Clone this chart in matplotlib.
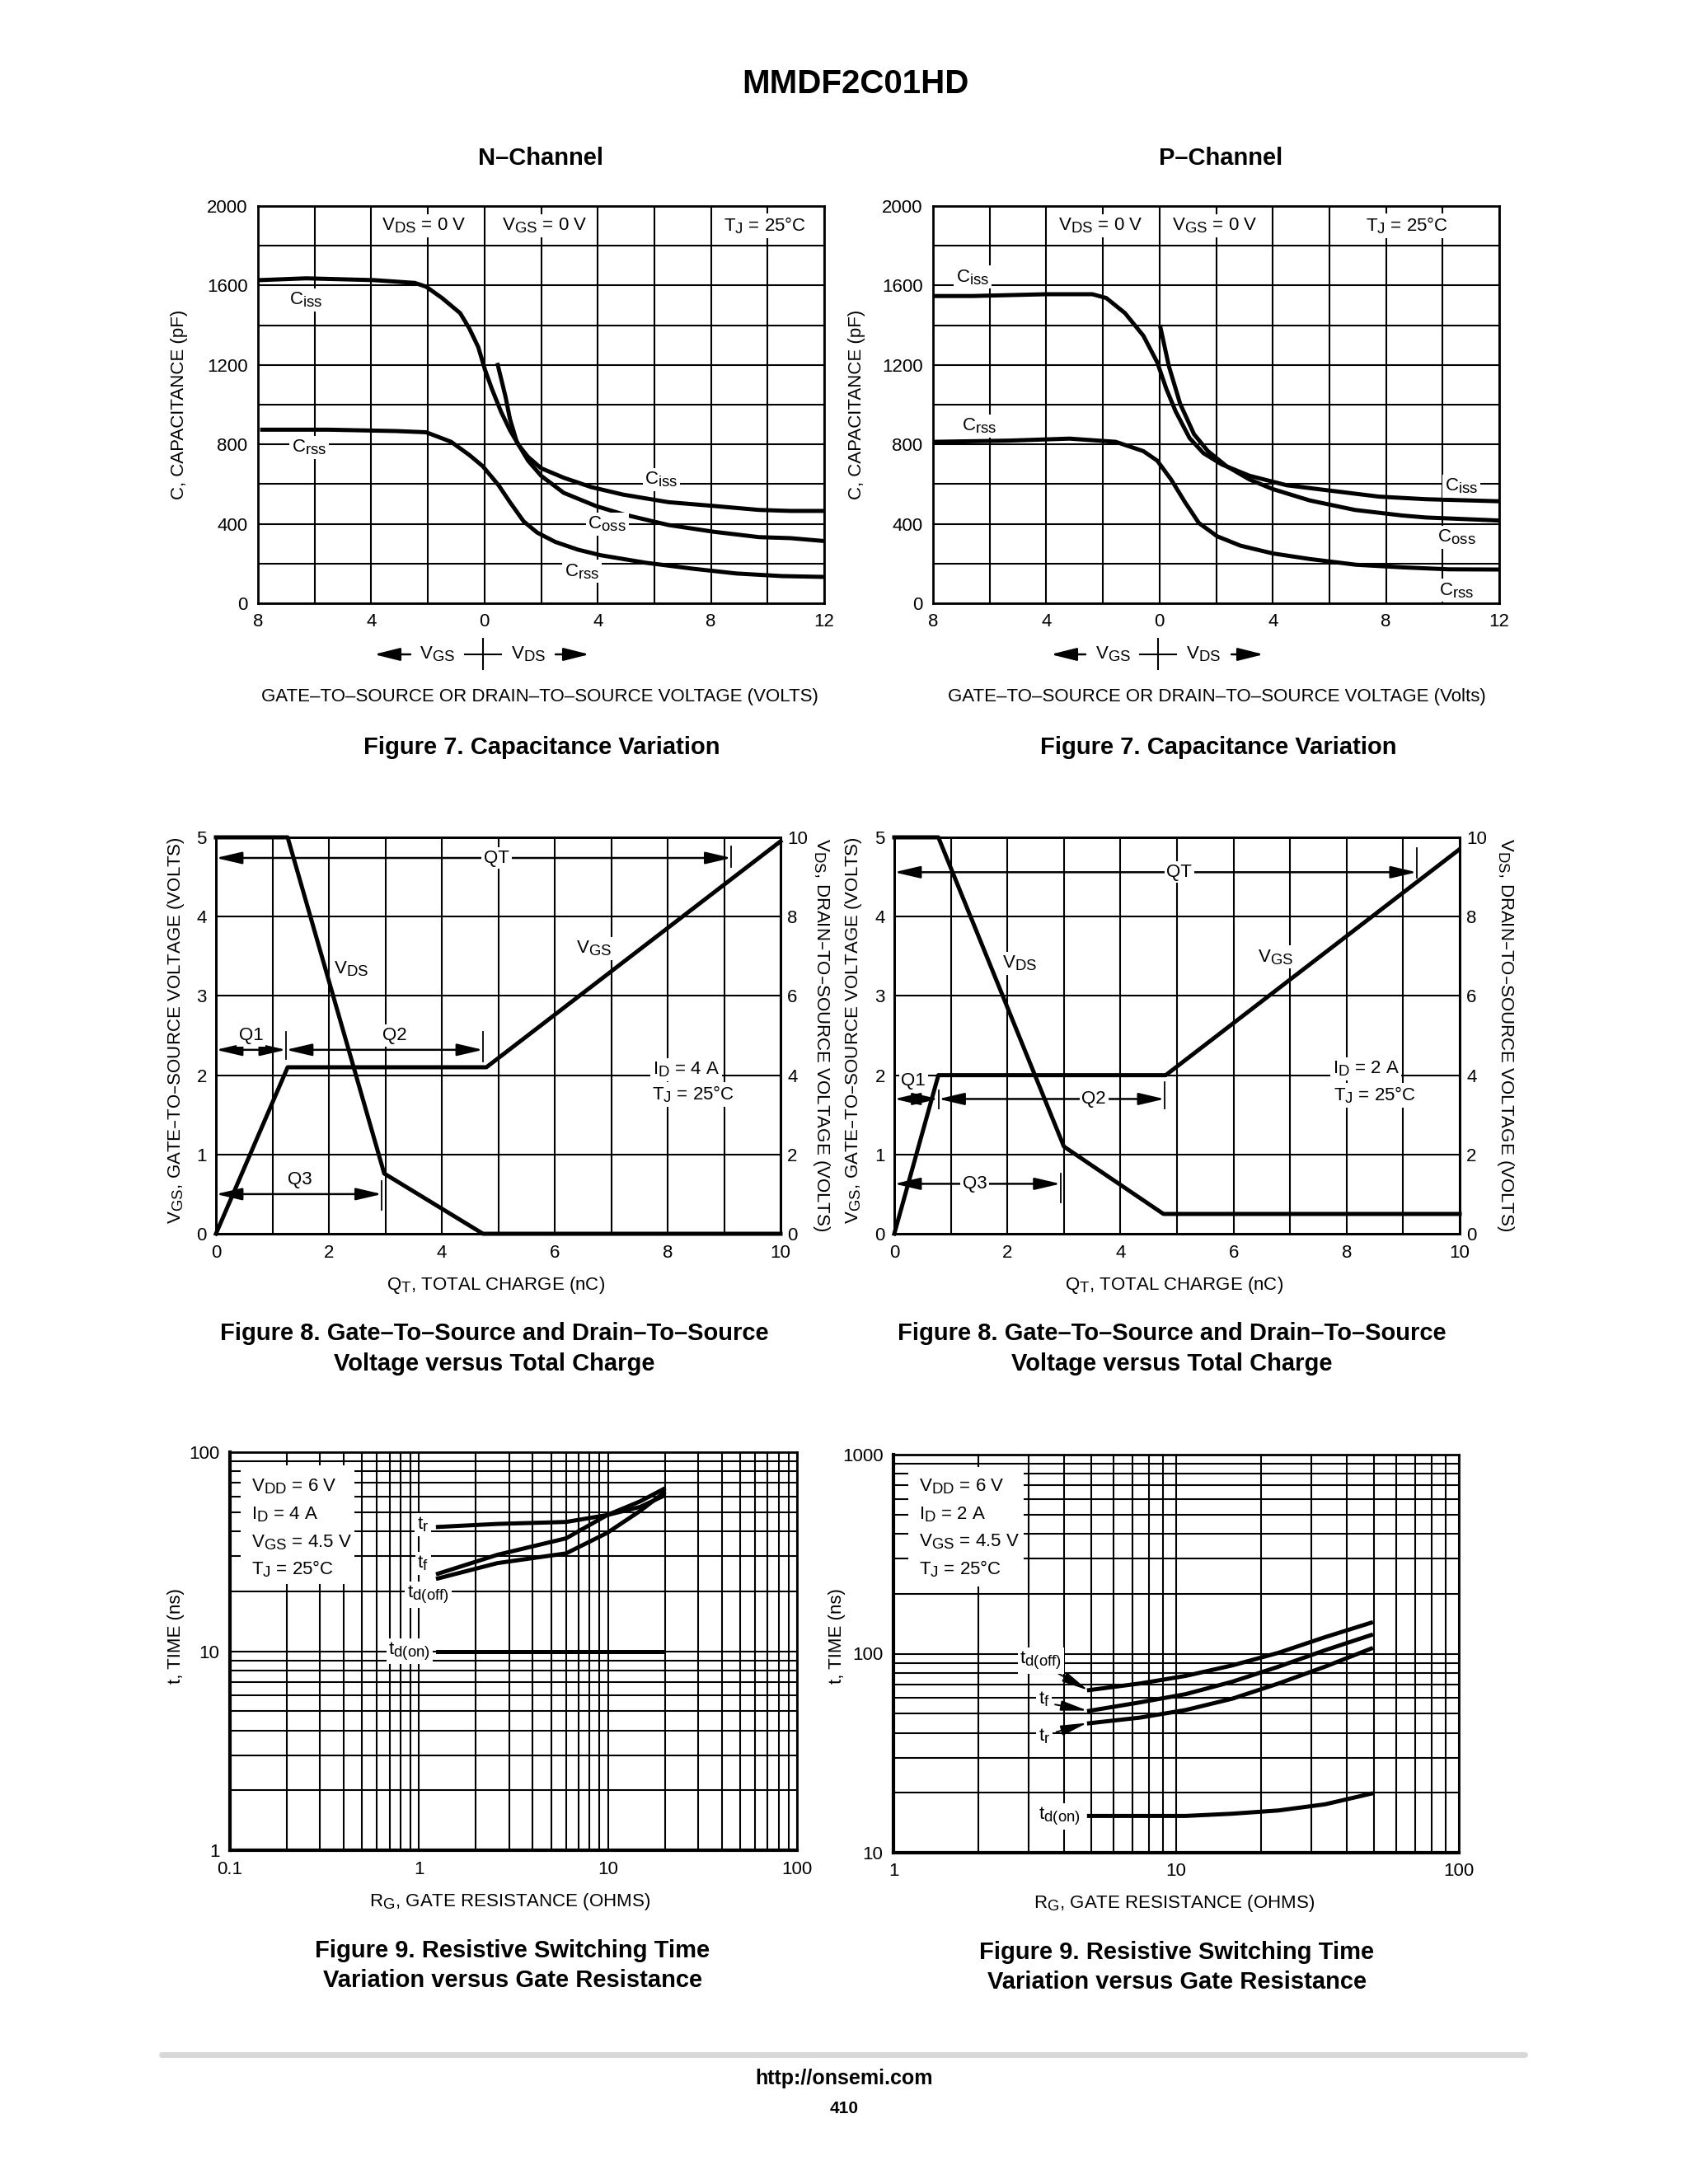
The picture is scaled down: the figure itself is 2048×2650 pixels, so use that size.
import numpy as np
import matplotlib as mpl
mpl.use('Agg')
import matplotlib.pyplot as plt
from matplotlib.lines import Line2D
from matplotlib.patches import Rectangle, FancyArrowPatch
from matplotlib.ticker import LogLocator, NullFormatter, FixedLocator, FixedFormatter

NARROW = ['Liberation Sans Narrow', 'Liberation Sans', 'DejaVu Sans']
BOLD = ['Liberation Sans', 'DejaVu Sans']
mpl.rcParams['font.family'] = NARROW
mpl.rcParams['font.size'] = 16
mpl.rcParams['mathtext.default'] = 'regular'

# datasheet subscripts are nearly full size
try:
    import matplotlib._mathtext as _mt
    _mt.SHRINK_FACTOR = 0.84
except Exception:
    pass

# ---------------- data ----------------
# Figure 7, N-channel capacitance (x < 0 is VGS, x > 0 is VDS)
vn_ciss = [-7.95, -6.3, -3.9, -2.46, -2.06, -1.5, -0.86, -0.54, -0.22, 0.02, 0.26,
           0.58, 0.9, 1.22, 1.54, 2.0, 2.8, 3.77, 4.9, 6.5, 8.1, 9.7, 10.8, 11.9]
cn_ciss = [1627, 1636, 1627, 1613, 1594, 1537, 1461, 1385, 1290, 1175, 1080,
           966, 871, 794, 737, 680, 632, 585, 547, 509, 490, 470, 465, 465]
vn_coss = [0.47, 0.74, 0.9, 1.14, 1.54, 2.0, 2.8, 3.93, 4.9, 6.5, 8.1, 9.7, 10.8, 11.95]
cn_coss = [1200, 1042, 928, 813, 718, 642, 556, 490, 448, 394, 360, 333, 328, 314]
vn_crss = [-7.85, -5.5, -3.1, -2.06, -1.18, -0.54, -0.06, 0.5, 0.9, 1.38, 1.86,
           2.5, 3.3, 4.1, 5.7, 7.3, 8.9, 10.5, 11.9]
cn_crss = [874, 874, 867, 861, 813, 747, 690, 594, 509, 413, 356,
           309, 270, 242, 204, 175, 150, 137, 133]

# Figure 7, P-channel capacitance
vp_ciss = [-7.92, -6.6, -4.0, -2.37, -1.88, -1.22, -0.57, -0.08, 0.24, 0.57,
           1.06, 1.55, 2.2, 3.18, 4.5, 6.1, 7.75, 9.4, 11.9]
cp_ciss = [1547, 1547, 1556, 1556, 1537, 1461, 1347, 1213, 1080, 966,
           832, 756, 699, 642, 594, 566, 537, 524, 514]
vp_coss = [0.03, 0.33, 0.73, 1.22, 1.71, 2.37, 3.18, 4.0, 5.3, 6.9, 8.57, 9.4, 11.95]
cp_coss = [1391, 1194, 1004, 851, 766, 690, 623, 575, 518, 470, 442, 432, 417]
vp_crss = [-7.92, -5.3, -3.18, -1.55, -0.57, -0.08, 0.41, 0.9, 1.39, 2.04,
           2.86, 4.0, 5.3, 6.94, 8.57, 10.2, 11.9]
cp_crss = [813, 819, 829, 813, 766, 718, 623, 509, 404, 337,
           290, 251, 223, 194, 181, 171, 170]

# Figure 8, gate charge (VGS on left axis, VDS on right axis)
qn_vgs = [0, 1.27, 4.79, 10.0]
vn_vgs = [0, 2.1, 2.1, 4.95]
qn_vds = [0, 1.27, 2.98, 4.73, 10.0]
vn_vds = [10, 10, 1.52, 0, 0]
qn_marks = [1.24, 4.73, 2.94, 9.13]      # Q1, Q2, Q3, QT ends

qp_vgs = [0, 0.78, 4.8, 9.98]
vp_vgs = [0, 2.0, 2.0, 4.84]
qp_vds = [0, 0.78, 3.0, 4.76, 10.0]
vp_vds = [10, 10, 2.2, 0.5, 0.5]
qp_marks = [0.78, 4.78, 2.94, 9.24]

# Figure 9, switching times vs gate resistance
rg_n = [1.26, 2.6, 6.0, 9.9, 14.8, 19.7]
tr_n = [42.1, 43.6, 44.6, 48.3, 53.1, 60.3]
tf_n = [24.5, 30.5, 36.9, 48.3, 56.6, 65.3]
tdoff_n = [23.2, 27.7, 31.0, 39.3, 50.7, 62.4]
tdon_n = [10.0, 10.0, 10.0, 10.0, 10.0, 10.0]

rg_p = [4.92, 7.44, 10.8, 15.8, 23.0, 33.6, 48.9]
tdoff_p = [65.6, 70.8, 77.3, 87.3, 101, 121, 143]
tf_p = [51.6, 56.9, 62.6, 72.3, 86, 104, 124]
tr_p = [44.7, 47.7, 52.1, 59.4, 70.8, 86, 106]
tdon_p = [15.3, 15.3, 15.3, 15.7, 16.3, 17.5, 19.8]

# ---------------- page setup ----------------
W, H = 2048.0, 2650.0
fig = plt.figure(figsize=(W / 100, H / 100), dpi=100)

LW_CURVE = 3.6
FS = 16
WHITE = dict(facecolor='white', edgecolor='none', pad=2)


def px_box(x0, y0, x1, y1):
    return [x0 / W, 1 - y1 / H, (x1 - x0) / W, (y1 - y0) / H]


def fpt(x, y):
    return (x / W, 1 - y / H)


def ftext(x, y, s, **kw):
    kw.setdefault('ha', 'center')
    kw.setdefault('va', 'center')
    kw.setdefault('size', FS)
    return fig.text(x / W, 1 - y / H, s, **kw)


def fline(xs, ys, **kw):
    fig.add_artist(Line2D([x / W for x in xs], [1 - y / H for y in ys],
                          transform=fig.transFigure, color='black', **kw))


def farrow(x0, y0, x1, y1):
    fig.add_artist(FancyArrowPatch(fpt(x0, y0), fpt(x1, y1), transform=fig.transFigure,
                                   arrowstyle='-|>,head_length=1.2,head_width=0.3',
                                   mutation_scale=16, lw=1.8, color='black',
                                   shrinkA=0, shrinkB=0))


def style_axes(ax, frame=2.0):
    ax.tick_params(which='both', length=0, labelsize=FS, pad=9)
    ax.grid(which='both', color='black', lw=1.5)
    for sp in ax.spines.values():
        sp.set_linewidth(frame)


def arrow(ax, x0, x1, y):
    ax.annotate('', xy=(x1, y), xytext=(x0, y),
                arrowprops=dict(arrowstyle='<|-|>,head_length=1.2,head_width=0.28',
                                mutation_scale=16, lw=1.8, color='black',
                                shrinkA=0, shrinkB=0), zorder=4)


# ---------------- Figure 7: capacitance ----------------
def cap_chart(box, curves, labels, conds):
    ax = fig.add_axes(px_box(*box))
    ax.set_xlim(-8, 12)
    ax.set_ylim(0, 2000)
    ax.set_xticks([-8, -4, 0, 4, 8, 12], ['8', '4', '0', '4', '8', '12'])
    ax.set_xticks(np.arange(-8, 13, 2), minor=True)
    ax.set_yticks(np.arange(0, 2001, 400))
    ax.set_yticks(np.arange(0, 2001, 200), minor=True)
    style_axes(ax)
    for x, y in curves:
        ax.plot(x, y, color='black', lw=LW_CURVE, zorder=3)
    for s, x, y in labels + conds:
        ax.text(x, y, s, ha='center', va='center', bbox=WHITE, zorder=5)
    return ax


cap_chart((313, 250, 1000, 732),
          [(vn_ciss, cn_ciss), (vn_coss, cn_coss), (vn_crss, cn_crss)],
          [('C$_{iss}$', -6.3, 1528), ('C$_{rss}$', -6.2, 785), ('C$_{iss}$', 6.25, 623),
           ('C$_{oss}$', 4.33, 400), ('C$_{rss}$', 3.45, 160)],
          [('V$_{DS}$ = 0 V', -2.14, 1900), ('V$_{GS}$ = 0 V', 2.13, 1900),
           ('T$_{J}$ = 25°C', 9.9, 1900)])
cap_chart((1132, 250, 1819, 732),
          [(vp_ciss, cp_ciss), (vp_coss, cp_coss), (vp_crss, cp_crss)],
          [('C$_{iss}$', -6.6, 1642), ('C$_{rss}$', -6.35, 893), ('C$_{iss}$', 10.66, 591),
           ('C$_{oss}$', 10.5, 333), ('C$_{rss}$', 10.5, 65)],
          [('V$_{DS}$ = 0 V', -2.1, 1900), ('V$_{GS}$ = 0 V', 1.96, 1900),
           ('T$_{J}$ = 25°C', 8.73, 1900)])

ftext(656, 192, 'N–Channel', family=BOLD, weight='bold', size=21)
ftext(1481, 192, 'P–Channel', family=BOLD, weight='bold', size=21)
ftext(218, 491, 'C, CAPACITANCE (pF)', rotation=90)
ftext(1039, 491, 'C, CAPACITANCE (pF)', rotation=90)

# VGS <-|-> VDS direction rows
for la, gx, cx, dx, ra in [((498, 454), 531, 586, 641, (674, 715)),
                           ((1317, 1275), 1351, 1405, 1460, (1494, 1533))]:
    farrow(la[0], 794, la[1], 794)
    ftext(gx, 794, 'V$_{GS}$')
    fline([cx, cx], [775, 812], lw=1.5)
    fline([cx - 22, cx + 22], [794, 794], lw=1.5)
    ftext(dx, 794, 'V$_{DS}$')
    farrow(ra[0], 794, ra[1], 794)

ftext(655, 845, 'GATE–TO–SOURCE OR DRAIN–TO–SOURCE VOLTAGE (VOLTS)')
ftext(1476, 845, 'GATE–TO–SOURCE OR DRAIN–TO–SOURCE VOLTAGE (Volts)')
ftext(657, 907, 'Figure 7. Capacitance Variation', family=BOLD, weight='bold', size=21)
ftext(1478, 907, 'Figure 7. Capacitance Variation', family=BOLD, weight='bold', size=21)


# ---------------- Figure 8: gate charge ----------------
def qg_chart(box, q_vgs, v_vgs, q_vds, v_vds, marks, spec):
    ax = fig.add_axes(px_box(*box))
    ax.set_xlim(0, 10)
    ax.set_ylim(0, 5)
    ax.set_xticks(np.arange(0, 11, 2))
    ax.set_xticks(np.arange(0, 11, 1), minor=True)
    ax.set_yticks(np.arange(0, 6, 1))
    style_axes(ax)
    ax.tick_params(axis='y', pad=8)
    ax.plot(q_vgs, v_vgs, color='black', lw=LW_CURVE, zorder=3, clip_on=False)

    ax2 = ax.twinx()
    ax2.set_ylim(0, 10)
    ax2.set_yticks(np.arange(0, 11, 2))
    ax2.tick_params(length=0, labelsize=FS, pad=6)
    for sp in ax2.spines.values():
        sp.set_linewidth(2.0)
    ax2.plot(q_vds, v_vds, color='black', lw=LW_CURVE, zorder=3, clip_on=False)

    q1, q2, q3, qt = marks
    # dimension arrows with their end ticks
    arrow(ax, 0, qt, spec['yt'])
    ax.plot([qt, qt], spec['tt'], color='black', lw=1.3, zorder=4)
    arrow(ax, 0, q1, spec['y12'])
    arrow(ax, q1, q2, spec['y12'])
    ax.plot([q1, q1], spec['t1'], color='black', lw=1.3, zorder=4)
    ax.plot([q2, q2], spec['t2'], color='black', lw=1.3, zorder=4)
    arrow(ax, 0, q3, spec['y3'])
    ax.plot([q3, q3], spec['t3'], color='black', lw=1.3, zorder=4)

    for s, x, y in spec['labels']:
        ax.text(x, y, s, ha='center', va='center', bbox=WHITE, zorder=6)
    return ax


qg_chart((262, 1016, 947, 1497), qn_vgs, vn_vgs, qn_vds, vn_vds, qn_marks,
         dict(yt=4.74, tt=(4.63, 4.89), y12=2.32, t1=(2.2, 2.55), t2=(2.17, 2.55),
              y3=0.5, t3=(0.3, 0.67),
              labels=[('QT', 4.97, 4.74), ('Q1', 0.625, 2.5), ('Q2', 3.17, 2.5),
                      ('Q3', 1.48, 0.68), ('V$_{DS}$', 2.4, 3.34), ('V$_{GS}$', 6.7, 3.6),
                      ('I$_{D}$ = 4 A', 8.33, 2.07), ('T$_{J}$ = 25°C', 8.45, 1.76)]))
qg_chart((1085, 1016, 1771, 1497), qp_vgs, vp_vgs, qp_vds, vp_vds, qp_marks,
         dict(yt=4.56, tt=(4.49, 4.87), y12=1.70, t1=(1.58, 1.81), t2=(1.58, 1.91),
              y3=0.63, t3=(0.39, 0.76),
              labels=[('QT', 5.04, 4.56), ('Q1', 0.34, 1.93), ('Q2', 3.53, 1.70),
                      ('Q3', 1.42, 0.63), ('V$_{DS}$', 2.22, 3.41), ('V$_{GS}$', 6.75, 3.49),
                      ('I$_{D}$ = 2 A', 8.34, 2.08), ('T$_{J}$ = 25°C', 8.5, 1.75)]))

ftext(214, 1250, 'V$_{GS}$, GATE–TO–SOURCE VOLTAGE (VOLTS)', rotation=90)
ftext(997, 1256, 'V$_{DS}$, DRAIN–TO–SOURCE VOLTAGE (VOLTS)', rotation=270)
ftext(1036, 1250, 'V$_{GS}$, GATE–TO–SOURCE VOLTAGE (VOLTS)', rotation=90)
ftext(1826, 1256, 'V$_{DS}$, DRAIN–TO–SOURCE VOLTAGE (VOLTS)', rotation=270)
ftext(602, 1559, 'Q$_{T}$, TOTAL CHARGE (nC)')
ftext(1425, 1559, 'Q$_{T}$, TOTAL CHARGE (nC)')
for cx in (600, 1422):
    ftext(cx, 1618, 'Figure 8. Gate–To–Source and Drain–To–Source',
          family=BOLD, weight='bold', size=21)
    ftext(cx, 1655, 'Voltage versus Total Charge', family=BOLD, weight='bold', size=21)


# ---------------- Figure 9: switching times ----------------
def sw_chart(box, xlim, ylim, xt, yt, curves, labels, cond, cbox, ctext):
    ax = fig.add_axes(px_box(*box))
    ax.set_xscale('log')
    ax.set_yscale('log')
    ax.set_xlim(*xlim)
    ax.set_ylim(*ylim)
    ax.xaxis.set_major_locator(FixedLocator(xt))
    ax.xaxis.set_major_formatter(FixedFormatter([str(v) for v in xt]))
    ax.yaxis.set_major_locator(FixedLocator(yt))
    ax.yaxis.set_major_formatter(FixedFormatter([str(v) for v in yt]))
    for a in (ax.xaxis, ax.yaxis):
        a.set_minor_locator(LogLocator(base=10, subs=np.arange(2, 10), numticks=50))
        a.set_minor_formatter(NullFormatter())
    style_axes(ax)
    ax.spines['left'].set_linewidth(3)
    ax.spines['bottom'].set_linewidth(3)
    for x, y in curves:
        ax.plot(x, y, color='black', lw=LW_CURVE, zorder=3)
    for lab in labels:
        s, x, y = lab[:3]
        ax.text(x, y, s, ha='center', va='center', bbox=WHITE, zorder=6)
        if len(lab) > 3:
            ax.annotate('', xy=lab[4], xytext=lab[3],
                        arrowprops=dict(arrowstyle='-|>,head_length=1.3,head_width=0.25',
                                        mutation_scale=15, lw=1.4, color='black',
                                        shrinkA=0, shrinkB=0), zorder=5)
    # white box with test conditions
    x0, x1, y0, y1 = cbox
    ax.add_patch(Rectangle((x0, y0), x1 - x0, y1 - y0, transform=ax.transAxes,
                           facecolor='white', edgecolor='none', zorder=2))
    for s, yy in zip(cond, ctext[1]):
        ax.text(ctext[0], yy, s, transform=ax.transAxes, ha='left', va='center', zorder=6)
    return ax


sw_chart((279, 1762, 967, 2245), (0.1, 100), (1, 100), [0.1, 1, 10, 100], [1, 10, 100],
         [(rg_n, tr_n), (rg_n, tf_n), (rg_n, tdoff_n), (rg_n, tdon_n)],
         [('t$_{r}$', 1.05, 43.2), ('t$_{f}$', 1.05, 27.7), ('t$_{d(off)}$', 1.12, 19.2),
          ('t$_{d(on)}$', 0.89, 10.0)],
         ['V$_{DD}$ = 6 V', 'I$_{D}$ = 4 A', 'V$_{GS}$ = 4.5 V', 'T$_{J}$ = 25°C'],
         (0.019, 0.219, 0.669, 0.967), (0.038, [0.914, 0.843, 0.772, 0.706]))
sw_chart((1084, 1765, 1770, 2248), (1, 100), (10, 1000), [1, 10, 100], [10, 100, 1000],
         [(rg_p, tdoff_p), (rg_p, tf_p), (rg_p, tr_p), (rg_p, tdon_p)],
         [('t$_{d(off)}$', 3.32, 92, (3.8, 80), (4.88, 65.5)),
          ('t$_{f}$', 3.41, 59, (3.73, 55.5), (4.85, 51.8)),
          ('t$_{r}$', 3.41, 38.5, (3.77, 40.4), (4.85, 44.9)),
          ('t$_{d(on)}$', 3.86, 15.2)],
         ['V$_{DD}$ = 6 V', 'I$_{D}$ = 2 A', 'V$_{GS}$ = 4.5 V', 'T$_{J}$ = 25°C'],
         (0.026, 0.230, 0.669, 0.969), (0.045, [0.919, 0.849, 0.781, 0.712]))

ftext(214, 1985, 't, TIME (ns)', rotation=90)
ftext(1015, 1985, 't, TIME (ns)', rotation=90)
ftext(619, 2307, 'R$_{G}$, GATE RESISTANCE (OHMS)')
ftext(1425, 2309, 'R$_{G}$, GATE RESISTANCE (OHMS)')
for cx, cy in ((622, 2367), (1428, 2369)):
    ftext(cx, cy, 'Figure 9. Resistive Switching Time', family=BOLD, weight='bold', size=21)
    ftext(cx, cy + 36, 'Variation versus Gate Resistance', family=BOLD, weight='bold', size=21)

# ---------------- page header / footer ----------------
ftext(1038, 102, 'MMDF2C01HD', family=BOLD, weight='bold', size=29)
fig.add_artist(Line2D([196 / W, 1850 / W], [1 - 2493 / H] * 2, transform=fig.transFigure,
                      color='#d8d8d8', lw=5, solid_capstyle='round'))
ftext(1024, 2522, 'http://onsemi.com', family=BOLD, weight='bold', size=18)
ftext(1024, 2559, '410', family=BOLD, weight='bold', size=15)

fig.savefig('out.png', dpi=100, facecolor='white')
